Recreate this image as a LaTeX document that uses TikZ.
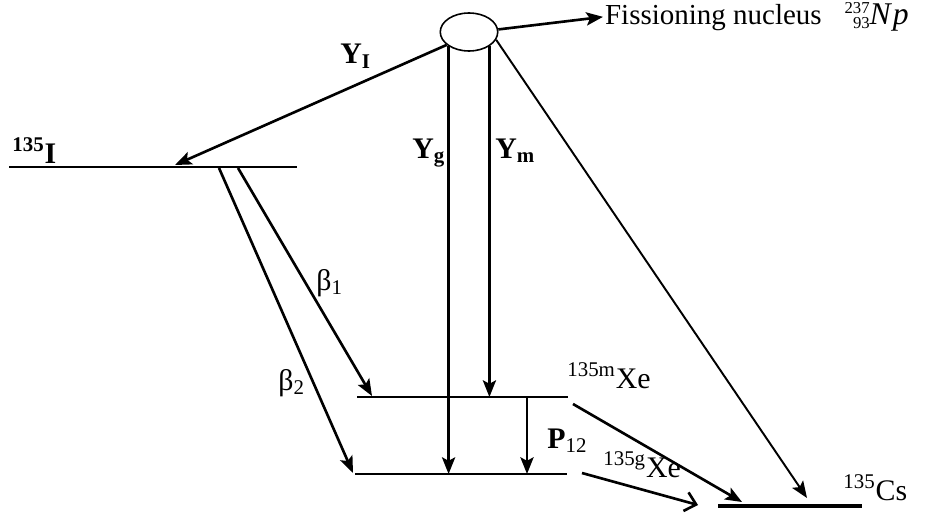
\documentclass[tikz,border=0pt]{standalone}
\usepackage{fontspec}
\setmainfont{Liberation Serif}
\usetikzlibrary{arrows.meta,shapes.geometric}
\newcommand\prescr[2]{\rlap{\raisebox{6.8pt}{\fontsize{9.5}{10}\selectfont #1}}%
  \makebox[14.3pt][r]{\raisebox{-2pt}{\fontsize{9.5}{10}\selectfont #2}}}
\begin{document}
\begin{tikzpicture}[x=0.02cm,y=-0.02cm,
  lvl/.style={line width=0.9pt},
  arr/.style={line width=1.5pt,-{Stealth[length=9.5pt,width=7.5pt,inset=2pt]}},
  thinarr/.style={line width=1.1pt,-{Stealth[length=9.5pt,width=7.5pt,inset=2pt]}},
  openarr/.style={line width=1.5pt,-{Straight Barb[length=6pt,width=11pt]}},
  lbl/.style={font=\fontsize{17}{20}\selectfont,inner sep=0pt,anchor=base west}]
  \useasboundingbox (0,0) rectangle (928,517);
  % fissioning nucleus
  \node[draw,ellipse,line width=0.9pt,minimum width=1.15cm,minimum height=0.76cm,inner sep=0pt] (nuc) at (469,32) {};
  \node[lbl,inner sep=1pt,font=\fontsize{16.5}{20}\selectfont] (fis) at (603,25)
    {Fissioning nucleus\hspace{13pt}\prescr{237}{93}{\fontsize{18}{20}\selectfont\textit{N\kern1.2pt p}}};
  % levels
  \coordinate (iL) at (9,167);
  \coordinate (iR) at (297,167);
  \coordinate (mL) at (357,397);
  \coordinate (mR) at (568,397);
  \coordinate (gL) at (355,474);
  \coordinate (gR) at (567,474);
  \coordinate (csL) at (718,506);
  \coordinate (csR) at (862,506);
  \draw[lvl] (iL) -- (iR);
  \draw[lvl] (mL) -- (mR);
  \draw[lvl] (gL) -- (gR);
  \draw[line width=2.2pt] (csL) -- (csR);
  % arrow ends
  \coordinate (iY) at (175,165);
  \coordinate (b1s) at (238,168);
  \coordinate (b1e) at (372,396);
  \coordinate (b2s) at (219,168);
  \coordinate (b2e) at (353,473);
  \coordinate (pT) at (527,397);
  \coordinate (pB) at (527,474);
  \coordinate (mX) at (573,404);
  \coordinate (gX) at (582,473);
  \coordinate (csM) at (742,502);
  \coordinate (csG) at (698,505);
  \coordinate (csN) at (807,498);
  % transitions
  \draw[arr] (nuc.5) -- (fis.west);
  \draw[arr] (nuc.210) -- (iY);
  \draw[arr] (nuc.215) -- (nuc.215 |- gL);
  \draw[arr] (nuc.325) -- (nuc.325 |- mL);
  \draw[thinarr] (nuc.344) -- (csN);
  \draw[arr] (b1s) -- (b1e);
  \draw[arr] (b2s) -- (b2e);
  \draw[arr] (pT) -- (pB);
  \draw[arr] (mX) -- (csM);
  \draw[openarr] (gX) -- (csG);
  % labels
  \node[lbl] (iLab) at (12,163) {\bfseries\textsuperscript{135}I};
  \node[lbl] (yiLab) at (340,64) {\bfseries Y\textsubscript{I}};
  \node[lbl] (ygLab) at (412,158) {\bfseries Y\textsubscript{g}};
  \node[lbl] (ymLab) at (495,158) {\bfseries Y\textsubscript{m}};
  \node[lbl] (b1Lab) at (316,290) {β\textsubscript{1}};
  \node[lbl] (b2Lab) at (278,390) {β\textsubscript{2}};
  \node[lbl] (pLab) at (547,448) {\textbf{P}\textsubscript{12}};
  \node[lbl] (xmLab) at (567,388) {\textsuperscript{135m}Xe};
  \node[lbl] (xgLab) at (603,477) {\textsuperscript{135g}Xe};
  \node[lbl] (csLab) at (843,500) {\textsuperscript{135}Cs};
\end{tikzpicture}
\end{document}
